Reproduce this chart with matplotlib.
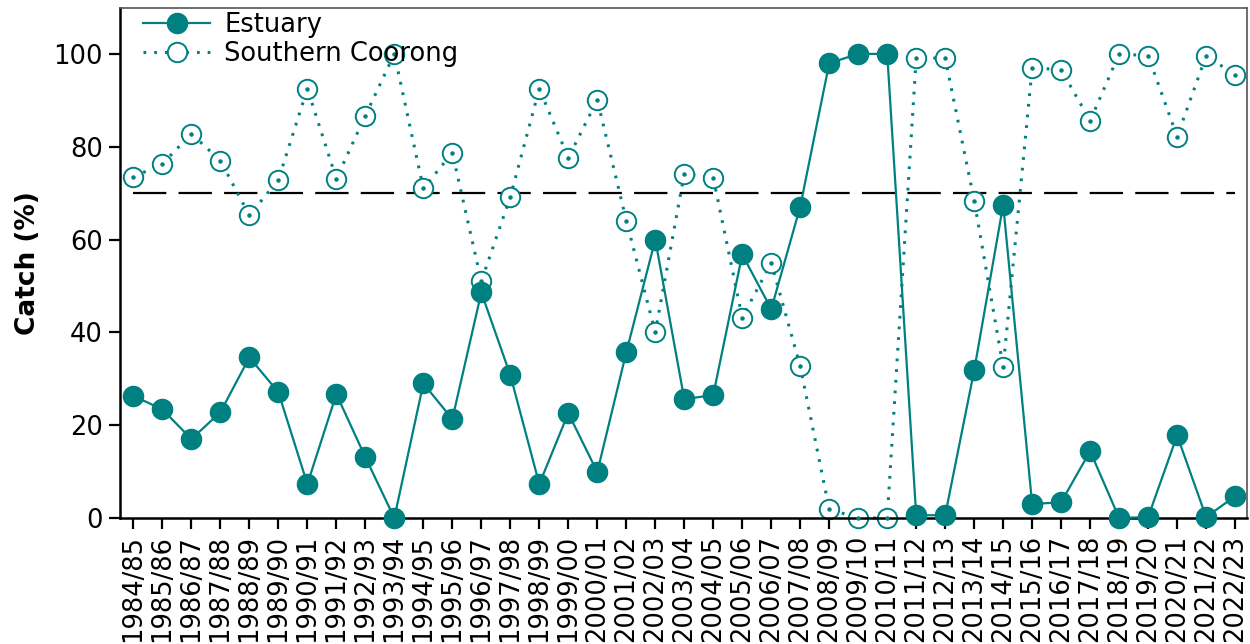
import matplotlib
matplotlib.use("Agg")
import matplotlib.pyplot as plt
from matplotlib.lines import Line2D

seasons = ["1984/85", "1985/86", "1986/87", "1987/88", "1988/89", "1989/90", "1990/91",
           "1991/92", "1992/93", "1993/94", "1994/95", "1995/96", "1996/97", "1997/98",
           "1998/99", "1999/00", "2000/01", "2001/02", "2002/03", "2003/04", "2004/05",
           "2005/06", "2006/07", "2007/08", "2008/09", "2009/10", "2010/11", "2011/12",
           "2012/13", "2013/14", "2014/15", "2015/16", "2016/17", "2017/18", "2018/19",
           "2019/20", "2020/21", "2021/22", "2022/23"]

estuary = [26.3, 23.4, 17.0, 22.8, 34.6, 27.1, 7.3, 26.7, 13.1, 0.0, 29.0, 21.3, 48.6,
           30.8, 7.3, 22.6, 9.9, 35.7, 60.0, 25.6, 26.5, 56.8, 45.0, 67.1, 98.0, 100.0,
           100.0, 0.6, 0.6, 31.8, 67.5, 3.0, 3.4, 14.4, 0.0, 0.2, 17.8, 0.2, 4.7]

southern_coorong = [73.5, 76.3, 82.8, 77.0, 65.2, 72.9, 92.5, 73.1, 86.7, 100.0, 71.0,
                    78.7, 51.0, 69.2, 92.5, 77.6, 90.1, 64.1, 40.0, 74.2, 73.3, 43.2,
                    55.0, 32.7, 1.9, 0.0, 0.0, 99.1, 99.1, 68.4, 32.5, 97.0, 96.6, 85.6,
                    100.0, 99.6, 82.2, 99.6, 95.5]

threshold = 70
yticks = [0, 20, 40, 60, 80, 100]

teal = "#008080"
plt.rcParams["font.family"] = ["DejaVu Sans"]

fig = plt.figure(figsize=(12.5, 6.44), dpi=100)
ax = fig.add_axes([119.5 / 1250, 1 - 518 / 644, (1247 - 119.5) / 1250, (518 - 7.5) / 644])

x = list(range(len(seasons)))

ax.plot([x[0], x[-1]], [threshold, threshold], color="black", lw=1.6,
        dashes=(15, 5.5), zorder=1)

ax.plot(x, southern_coorong, color=teal, lw=2.2, dashes=(0.9, 2.6),
        marker="o", markersize=14, markerfacecolor="white",
        markeredgecolor=teal, markeredgewidth=1.4, clip_on=False, zorder=2)
ax.plot(x, southern_coorong, ls="none", marker="o", markersize=2.2,
        color=teal, clip_on=False, zorder=3)

ax.plot(x, estuary, color=teal, lw=1.6, marker="o", markersize=14.5,
        markerfacecolor=teal, markeredgecolor=teal, clip_on=False, zorder=4)

ax.set_xlim(-0.48, 38.41)
ax.set_ylim(0, 110)
ax.set_xticks(x)
ax.set_xticklabels(seasons, rotation=90, fontsize=18.5)
ax.set_yticks(yticks)
ax.set_yticklabels([str(v) for v in yticks], fontsize=18.5)
ax.tick_params(axis="both", direction="out", length=8, width=1.6, color="black", pad=4)
ax.set_ylabel("Catch (%)", fontsize=19, fontweight="bold", labelpad=9)

for side in ["left", "bottom"]:
    ax.spines[side].set_linewidth(1.8)
    ax.spines[side].set_color("black")
for side in ["top", "right"]:
    ax.spines[side].set_linewidth(1.2)
    ax.spines[side].set_color("#555555")

h1 = Line2D([], [], color=teal, lw=1.6, marker="o", markersize=14.5,
            markerfacecolor=teal, markeredgecolor=teal)
h2 = Line2D([], [], color=teal, lw=2.2, dashes=(0.9, 2.6), marker="o", markersize=14,
            markerfacecolor="white", markeredgecolor=teal, markeredgewidth=1.4)
leg = ax.legend([h1, h2], ["Estuary", "Southern Coorong"], loc="upper left",
                frameon=False, fontsize=18.5, handlelength=2.6, handletextpad=0.55,
                borderaxespad=0.0, labelspacing=0.12, bbox_to_anchor=(0.012, 1.012))

fig.savefig("out.png", dpi=100)
